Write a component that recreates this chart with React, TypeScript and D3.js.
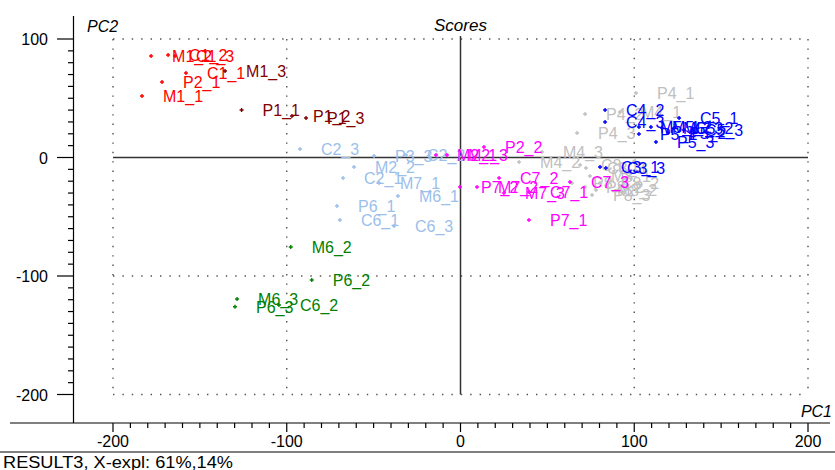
import React from "react";
import * as d3 from "d3";

type Pt = [string, number, number];

// Score values (PC1, PC2)
const redPts: Pt[] = [
  ["M1_1", -183.3, 51.9],
  ["P2_1", -171.8, 63.7],
  ["M1_2", -178.1, 85.7],
  ["C1_2", -168.3, 86.5],
  ["C1_3", -164.3, 85.7],
  ["C1_1", -158.0, 71.3],
];
const darkRedPts: Pt[] = [
  ["M1_3", -135.5, 73.0],
  ["P1_1", -126.0, 40.1],
  ["P1_2", -97.0, 35.0],
  ["P1_3", -88.9, 33.3],
];
const lightBluePts: Pt[] = [
  ["C2_3", -92.4, 7.2],
  ["P3_3", -49.8, 1.3],
  ["C2_2", -31.4, 2.1],
  ["M2_2", -61.3, -8.0],
  ["C2_1", -67.6, -17.3],
  ["M7_1", -46.9, -21.5],
  ["M6_1", -36.0, -32.5],
  ["P6_1", -71.1, -40.9],
  ["C6_1", -69.4, -52.7],
  ["C6_3", -38.3, -57.8],
];
const greenPts: Pt[] = [
  ["M6_2", -97.7, -75.5],
  ["P6_2", -85.6, -103.4],
  ["M6_3", -128.6, -119.4],
  ["P6_3", -129.8, -125.9],
  ["C6_2", -104.5, -124.5],
];
const magentaPts: Pt[] = [
  ["M2_1", -14.1, 2.1],
  ["M2_3", -7.8, 2.1],
  ["P2_2", 13.5, 8.9],
  ["P7_2", -0.3, -24.9],
  ["M7_2", 9.5, -24.9],
  ["C7_2", 22.2, -17.3],
  ["M7_3", 25.0, -30.0],
  ["C7_1", 39.4, -29.1],
  ["C7_3", 63.0, -20.7],
  ["P7_1", 39.4, -52.7],
];
const grayPts: Pt[] = [
  ["P4_1", 101.0, 54.4],
  ["P4_2", 71.7, 36.7],
  ["M4_1", 91.8, 38.4],
  ["P4_3", 67.1, 20.7],
  ["M4_3", 46.9, 4.6],
  ["M4_2", 33.7, -3.8],
  ["C8_1", 68.8, -6.3],
  ["C8_3", 72.2, -8.9],
  ["M8_1", 74.5, -15.6],
  ["P8_1", 64.2, -21.5],
  ["P8_2", 71.7, -24.9],
  ["M8_2", 78.0, -27.4],
  ["C8_2", 80.3, -21.5],
  ["P8_3", 75.7, -31.6],
];
const bluePts: Pt[] = [
  ["C4_2", 83.2, 40.1],
  ["C4_3", 83.2, 30.0],
  ["P5_1", 102.7, 19.8],
  ["P5_3", 112.5, 13.1],
  ["M5_1", 102.7, 25.7],
  ["M5_2", 109.6, 25.7],
  ["M5_3", 116.0, 24.9],
  ["C5_2", 122.9, 24.9],
  ["C5_3", 128.6, 23.2],
  ["C5_1", 125.8, 33.3],
  ["P5_2", 119.4, 20.7],
  ["C3_1", 80.3, -8.0],
  ["C3_3", 83.7, -8.9],
];

const xTicks = [-200, -100, 0, 100, 200];
const yTicks = [100, 0, -100, -200];
const xGrid = [-200, -100, 100, 200];
const yGrid = [100, -100, -200];

const groups: { pts: Pt[]; color: string }[] = [
  { pts: lightBluePts, color: "#9cbfea" },
  { pts: grayPts, color: "#c0c0c0" },
  { pts: redPts, color: "#ff0000" },
  { pts: darkRedPts, color: "#800000" },
  { pts: greenPts, color: "#008000" },
  { pts: magentaPts, color: "#ff00ff" },
  { pts: bluePts, color: "#0000ff" },
];

const FONT = "'Liberation Sans', Arial, sans-serif";

export default function App() {
  const W = 835;
  const H = 470;
  const x = d3.scaleLinear().domain([-200, 200]).range([113, 808]);
  const y = d3.scaleLinear().domain([-200, 100]).range([394.5, 39]);
  const axisX = 73.5;
  const axisY = 423;

  const xMinor = d3.range(-200, 201, 10);
  const yMinor = d3.range(-200, 101, 10);

  return (
    <svg
      width={W}
      height={H}
      style={{ position: "absolute", left: 0, top: 0, background: "#fff" }}
      fontFamily={FONT}
    >
      <rect x={0} y={0} width={W} height={H} fill="#fff" />
      {/* dotted grid */}
      {yGrid.map((v) => (
        <line
          key={"gy" + v}
          x1={x(-200)}
          x2={x(200)}
          y1={y(v)}
          y2={y(v)}
          stroke="#505050"
          strokeWidth={1.4}
          strokeDasharray="1.4 8"
        />
      ))}
      {xGrid.map((v) => (
        <line
          key={"gx" + v}
          x1={x(v)}
          x2={x(v)}
          y1={y(100)}
          y2={y(-200)}
          stroke="#505050"
          strokeWidth={1.4}
          strokeDasharray="1.4 8"
        />
      ))}
      {/* zero lines */}
      <line x1={x(-200)} x2={x(200)} y1={y(0)} y2={y(0)} stroke="#333" strokeWidth={1.5} />
      <line x1={x(0)} x2={x(0)} y1={36} y2={y(-200)} stroke="#333" strokeWidth={1.5} />

      {/* axes */}
      <line x1={axisX} x2={axisX} y1={16} y2={axisY} stroke="#000" strokeWidth={1.2} />
      <line x1={10} x2={830} y1={axisY} y2={axisY} stroke="#000" strokeWidth={1.2} />
      <line x1={0} x2={W} y1={452} y2={452} stroke="#000" strokeWidth={1.2} />

      {yMinor.map((v) => {
        const major = v % 100 === 0;
        return (
          <line
            key={"ty" + v}
            x1={major ? 57 : 68}
            x2={axisX}
            y1={y(v)}
            y2={y(v)}
            stroke="#000"
            strokeWidth={1.2}
          />
        );
      })}
      {xMinor.map((v) => {
        const major = v % 100 === 0;
        return (
          <line
            key={"tx" + v}
            x1={x(v)}
            x2={x(v)}
            y1={axisY}
            y2={axisY + (major ? 9 : 5)}
            stroke="#000"
            strokeWidth={1.2}
          />
        );
      })}
      {yTicks.map((v) => (
        <text key={"ly" + v} x={48} y={y(v) + 6} fontSize={16} textAnchor="end" fill="#000">
          {v}
        </text>
      ))}
      {xTicks.map((v) => (
        <text key={"lx" + v} x={x(v)} y={447} fontSize={16} textAnchor="middle" fill="#000">
          {v}
        </text>
      ))}

      <text x={x(0)} y={31} fontSize={17} fontStyle="italic" textAnchor="middle" fill="#000">
        Scores
      </text>
      <text x={87} y={32} fontSize={16} fontStyle="italic" fill="#000">
        PC2
      </text>
      <text x={832} y={417} fontSize={16} fontStyle="italic" textAnchor="end" fill="#000">
        PC1
      </text>
      <text x={3} y={468} fontSize={16} fill="#000" textLength={230} lengthAdjust="spacingAndGlyphs">
        RESULT3, X-expl: 61%,14%
      </text>

      {/* points and labels */}
      {groups.map((g, gi) => (
        <g key={"g" + gi} fill={g.color} stroke="none">
          {g.pts.map(([name, px, py]) => {
            const cx = x(px);
            const cy = y(py);
            return (
              <g key={name}>
                <path
                  d={`M${cx - 2},${cy}H${cx + 2}M${cx},${cy - 2}V${cy + 2}`}
                  stroke={g.color}
                  strokeWidth={1.4}
                />
                <text x={cx + 21} y={cy + 6} fontSize={16} fill={g.color}>
                  {name}
                </text>
              </g>
            );
          })}
        </g>
      ))}
    </svg>
  );
}
